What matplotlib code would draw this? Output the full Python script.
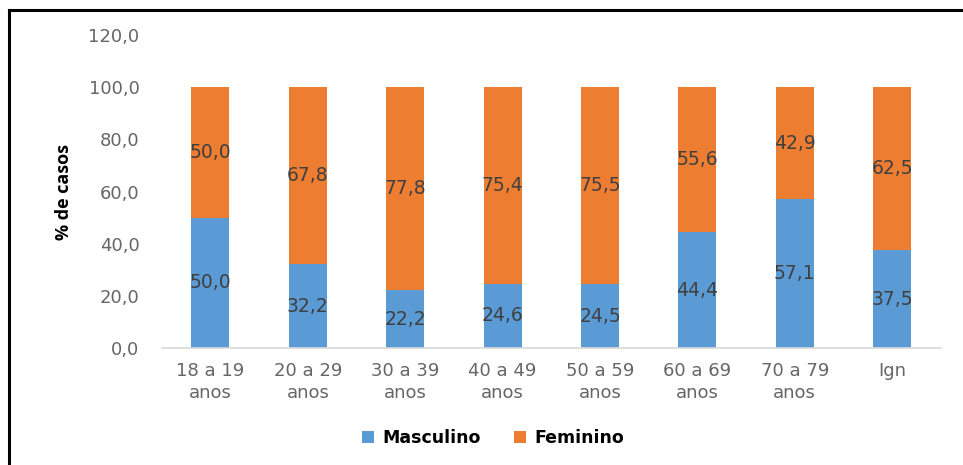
import matplotlib
matplotlib.use("Agg")
import matplotlib.pyplot as plt
from matplotlib.lines import Line2D
import numpy as np

categories = ["18 a 19\nanos", "20 a 29\nanos", "30 a 39\nanos", "40 a 49\nanos",
              "50 a 59\nanos", "60 a 69\nanos", "70 a 79\nanos", "Ign"]
masculino = [50.0, 32.2, 22.2, 24.6, 24.5, 44.4, 57.1, 37.5]
feminino = [50.0, 67.8, 77.8, 75.4, 75.5, 55.6, 42.9, 62.5]
yticks = [0, 20, 40, 60, 80, 100, 120]

plt.rcParams['font.family'] = ['DejaVu Sans']

BLUE = "#5b9bd5"
ORANGE = "#ed7d31"

fig = plt.figure(figsize=(9.63, 4.65), dpi=100)
ax = fig.add_axes([0.168, 0.2516, 0.809, 0.6731])

x = np.arange(len(categories))
w = 0.39
b1 = ax.bar(x, masculino, w, color=BLUE, label="Masculino")
b2 = ax.bar(x, feminino, w, bottom=masculino, color=ORANGE, label="Feminino")

for xi, m, f in zip(x, masculino, feminino):
    ax.text(xi, m / 2, f"{m:.1f}".replace(".", ","), ha="center", va="center",
            fontsize=13.5, color="#404040")
    ax.text(xi, m + f / 2, f"{f:.1f}".replace(".", ","), ha="center", va="center",
            fontsize=13.5, color="#404040")

ax.set_xlim(-0.5, len(categories) - 0.5)
ax.set_ylim(0, 120)
ax.set_yticks(yticks)
ax.set_yticklabels([f"{v:.1f}".replace(".", ",") for v in yticks], fontsize=13, color="#666666")
ax.set_xticks(x)
ax.set_xticklabels(categories, fontsize=13, color="#666666", linespacing=1.3)
ax.tick_params(axis="both", length=0)
ax.tick_params(axis="y", pad=16)
ax.tick_params(axis="x", pad=10)

for s in ["top", "right", "left"]:
    ax.spines[s].set_visible(False)
ax.spines["bottom"].set_color("#d9d9d9")
ax.spines["bottom"].set_linewidth(1.2)

ax.set_ylabel("% de casos", fontsize=13, fontweight="bold", color="black",
              labelpad=11, family="Open Sans")

leg = fig.legend(handles=[b1, b2], labels=["Masculino", "Feminino"], loc="center",
                 bbox_to_anchor=(0.512, 0.058), ncol=2, frameon=False,
                 prop={"weight": "bold", "size": 12.5}, handlelength=0.7, handleheight=0.7,
                 columnspacing=1.9, handletextpad=0.5)

# Outer frame: top and left edges
fig.add_artist(Line2D([0.0095, 1.0], [0.978, 0.978], transform=fig.transFigure,
                      color="black", linewidth=2.2))
fig.add_artist(Line2D([0.0095, 0.0095], [0.0, 0.978], transform=fig.transFigure,
                      color="black", linewidth=2.2))

fig.savefig("out.png", dpi=100)
